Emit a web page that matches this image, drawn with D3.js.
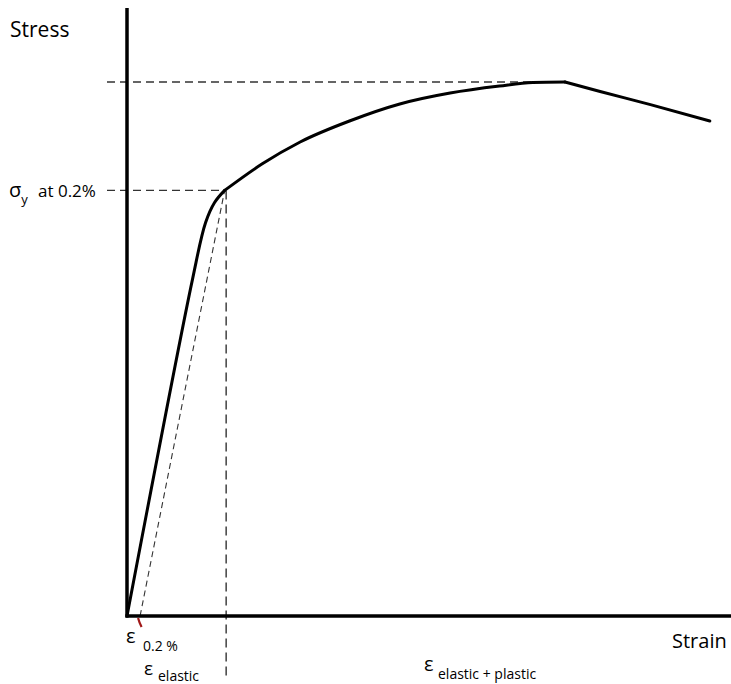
<!DOCTYPE html>
<html>
<head>
<meta charset="utf-8">
<script src="https://cdn.jsdelivr.net/npm/d3@7"></script>
<style>
  html, body { margin: 0; padding: 0; background: #fff; }
  svg { display: block; }
  text { font-family: "Open Sans", "DejaVu Sans", sans-serif; fill: #000; }
</style>
</head>
<body>
<svg id="chart" width="731" height="684"></svg>
<script>
// ---- data (strain in arbitrary units, stress in MPa-like units) ----
const elasticStrain = [0, 6.5, 7.8, 8.7, 9.7];
const elasticStress = [0, 332, 388, 408, 420];
const hardeningStrain = [9.7, 13.4, 17.2, 22.1, 27.1, 32.1, 37.0, 40.3, 43.5];
const hardeningStress = [420, 446, 467.8, 488.5, 505.3, 516.1, 523, 526.5, 527];
const neckingStrain = [43.5, 47.0, 52.0, 57.9];
const neckingStress = [527, 517.6, 504.6, 488.5];
const yieldStrain = 9.7;
const yieldStress = 420;
const utsStrain = 43.5;
const utsStress = 527;
const offsetStrain = 1.3;
const axisLabels = ["Stress", "Strain"];

const svg = d3.select("#chart");
const x = d3.scaleLinear().domain([0, 60]).range([127, 731]);
const y = d3.scaleLinear().domain([0, 600]).range([616, 8]);

// dashed guide lines
const guide = svg.append("g").attr("fill", "none").attr("stroke", "#333").attr("stroke-width", 1.4);
guide.append("line")
  .attr("x1", x(0) - 20).attr("x2", x(utsStrain))
  .attr("y1", y(utsStress)).attr("y2", y(utsStress))
  .attr("stroke-dasharray", "8,5");
guide.append("line")
  .attr("x1", x(0) - 20).attr("x2", x(yieldStrain))
  .attr("y1", y(yieldStress)).attr("y2", y(yieldStress))
  .attr("stroke-dasharray", "8,5");
guide.append("line")
  .attr("x1", x(yieldStrain) + 1.5).attr("x2", x(yieldStrain) + 1.5)
  .attr("y1", y(yieldStress)).attr("y2", 676)
  .attr("stroke-dasharray", "9,5");
guide.append("line")
  .attr("x1", x(offsetStrain)).attr("x2", x(yieldStrain))
  .attr("y1", y(0)).attr("y2", y(yieldStress))
  .attr("stroke-width", 1.1)
  .attr("stroke-dasharray", "6,4");

// axes
svg.append("line").attr("x1", x(0)).attr("x2", x(0)).attr("y1", 8).attr("y2", y(0) + 1.5)
  .attr("stroke", "#000").attr("stroke-width", 3.5);
svg.append("line").attr("x1", x(0) - 1.5).attr("x2", 731).attr("y1", y(0)).attr("y2", y(0))
  .attr("stroke", "#000").attr("stroke-width", 3.5);

// curve
const elasticLine = d3.line().x(d => x(d[0])).y(d => y(d[1])).curve(d3.curveCatmullRom.alpha(0.5));
const smoothLine = d3.line().x(d => x(d[0])).y(d => y(d[1])).curve(d3.curveMonotoneX);
const curveG = svg.append("g").attr("fill", "none").attr("stroke", "#000").attr("stroke-width", 3)
  .attr("stroke-linejoin", "round").attr("stroke-linecap", "round");
curveG.append("path").datum(d3.zip(elasticStrain, elasticStress)).attr("d", elasticLine);
curveG.append("path").datum(d3.zip(hardeningStrain, hardeningStress)).attr("d", smoothLine);
curveG.append("path").datum(d3.zip(neckingStrain, neckingStress)).attr("d", smoothLine);

// red offset mark
const ox = x(offsetStrain), oy = y(0);
svg.append("path")
  .attr("d", `M${ox - 2},${oy + 2} Q${ox - 1},${oy + 6} ${ox + 1.5},${oy + 11}`)
  .attr("fill", "none").attr("stroke", "#a01818").attr("stroke-width", 2.2);

// labels
svg.append("text").attr("x", 10).attr("y", 37).attr("font-size", 21).text(axisLabels[0]);
svg.append("text").attr("x", 672).attr("y", 648).attr("font-size", 20).text(axisLabels[1]);

const sy = svg.append("text").attr("x", 9).attr("y", 197);
sy.append("tspan").attr("font-size", 20).text("σ");
sy.append("tspan").attr("font-size", 13).attr("dy", 7).text("y");
svg.append("text").attr("x", 38).attr("y", 197).attr("font-size", 17).text("at 0.2%");

svg.append("text").attr("x", 126).attr("y", 643).attr("font-size", 20).text("ε");
svg.append("text").attr("x", 143).attr("y", 651).attr("font-size", 14).text("0.2 %");

svg.append("text").attr("x", 144).attr("y", 675).attr("font-size", 19).text("ε");
svg.append("text").attr("x", 158).attr("y", 681).attr("font-size", 14).text("elastic");

svg.append("text").attr("x", 424).attr("y", 671).attr("font-size", 20).text("ε");
svg.append("text").attr("x", 438).attr("y", 679).attr("font-size", 14).text("elastic + plastic");
</script>
</body>
</html>
